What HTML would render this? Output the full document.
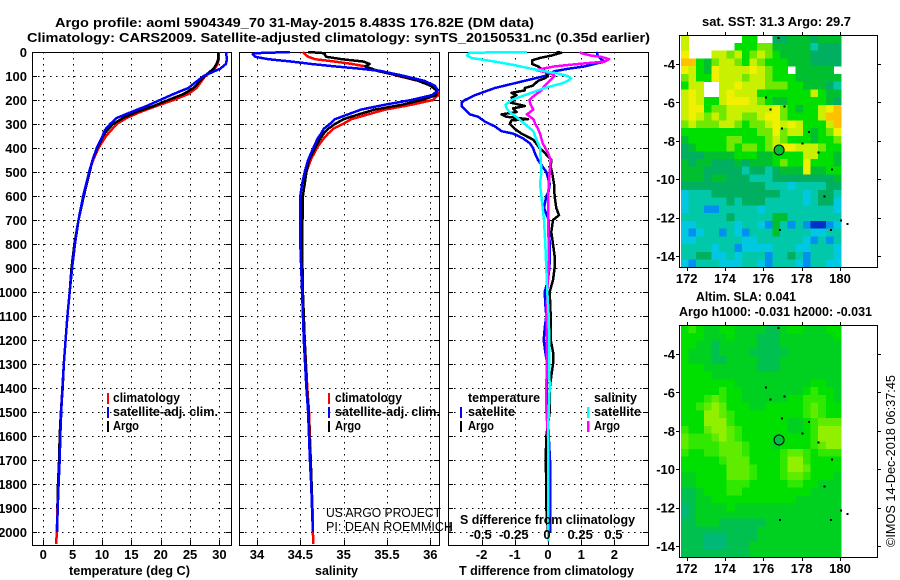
<!DOCTYPE html>
<html lang="en">
<head>
<meta charset="utf-8">
<title>Argo profile comparison</title>
<style>
html,body{margin:0;padding:0;background:#fff;}
svg{display:block;}
text{font-family:"Liberation Sans",sans-serif;fill:#000;}
.b{font-weight:bold;font-size:13px;}
.r{font-size:13px;}
</style>
</head>
<body>
<svg id="chart" xmlns="http://www.w3.org/2000/svg" width="900" height="580" viewBox="0 0 900 580">
<rect x="0" y="0" width="900" height="580" fill="#fff"/>
<text class="b" x="55" y="27" textLength="479" lengthAdjust="spacingAndGlyphs">Argo profile: aoml 5904349_70 31-May-2015 8.483S 176.82E (DM data)</text>
<text class="b" x="27" y="42" textLength="623" lengthAdjust="spacingAndGlyphs">Climatology: CARS2009. Satellite-adjusted climatology: synTS_20150531.nc (0.35d earlier)</text>
<g id="mapLayer"></g>
<g id="panelLayer"></g>
<text class="b" x="69" y="575" textLength="121" lengthAdjust="spacingAndGlyphs">temperature (deg C)</text>
<text class="b" x="315" y="575" textLength="43" lengthAdjust="spacingAndGlyphs">salinity</text>
<text class="b" x="459" y="575" textLength="175" lengthAdjust="spacingAndGlyphs">T difference from climatology</text>
<text class="b" x="460" y="524" textLength="175" lengthAdjust="spacingAndGlyphs">S difference from climatology</text>

<g>
<rect x="107" y="393" width="2" height="11" fill="#f00"/>
<text class="b" x="113" y="402" textLength="67" lengthAdjust="spacingAndGlyphs">climatology</text>
<rect x="107" y="407" width="2" height="11" fill="#00f"/>
<text class="b" x="113" y="416" textLength="105" lengthAdjust="spacingAndGlyphs">satellite-adj. clim.</text>
<rect x="107" y="421" width="2" height="11" fill="#000"/>
<text class="b" x="113" y="430" textLength="26" lengthAdjust="spacingAndGlyphs">Argo</text>
</g>
<g>
<rect x="328" y="393" width="2" height="11" fill="#f00"/>
<text class="b" x="335" y="402" textLength="67" lengthAdjust="spacingAndGlyphs">climatology</text>
<rect x="328" y="407" width="2" height="11" fill="#00f"/>
<text class="b" x="335" y="416" textLength="105" lengthAdjust="spacingAndGlyphs">satellite-adj. clim.</text>
<rect x="328" y="421" width="2" height="11" fill="#000"/>
<text class="b" x="335" y="430" textLength="26" lengthAdjust="spacingAndGlyphs">Argo</text>
</g>
<g>
<text class="b" x="468" y="402" textLength="72" lengthAdjust="spacingAndGlyphs">temperature</text>
<rect x="460" y="407" width="2" height="11" fill="#00f"/>
<text class="b" x="468" y="416" textLength="47" lengthAdjust="spacingAndGlyphs">satellite</text>
<rect x="460" y="421" width="2" height="11" fill="#000"/>
<text class="b" x="468" y="430" textLength="26" lengthAdjust="spacingAndGlyphs">Argo</text>
<text class="b" x="594" y="402" textLength="43" lengthAdjust="spacingAndGlyphs">salinity</text>
<rect x="587" y="407" width="2.5" height="11" fill="#0ff"/>
<text class="b" x="594" y="416" textLength="47" lengthAdjust="spacingAndGlyphs">satellite</text>
<rect x="587" y="421" width="2.5" height="11" fill="#f0f"/>
<text class="b" x="594" y="430" textLength="26" lengthAdjust="spacingAndGlyphs">Argo</text>
</g>
<path d="M445 527H450M450 522V532" stroke="#000" stroke-width="1" fill="none" shape-rendering="crispEdges"/>
<text class="r" x="326" y="517" textLength="115" lengthAdjust="spacingAndGlyphs">US ARGO PROJECT</text>
<text class="r" x="326" y="531" textLength="127" lengthAdjust="spacingAndGlyphs">PI: DEAN ROEMMICH</text>
<text class="b" x="702" y="26" textLength="149" lengthAdjust="spacingAndGlyphs">sat. SST: 31.3 Argo: 29.7</text>
<text class="b" x="696" y="301" textLength="100" lengthAdjust="spacingAndGlyphs">Altim. SLA: 0.041</text>
<text class="b" x="679" y="316" textLength="193" lengthAdjust="spacingAndGlyphs">Argo h1000: -0.031 h2000: -0.031</text>
<text class="r" transform="translate(895,547) rotate(-90)" x="0" y="0" textLength="172" lengthAdjust="spacingAndGlyphs">©IMOS 14-Dec-2018 06:37:45</text>
</svg>
<script>
// ---- profile data ----
const depthTicks = [0,100,200,300,400,500,600,700,800,900,1000,1100,1200,1300,1400,1500,1600,1700,1800,1900,2000];
const tempTicks = [0,5,10,15,20,25,30];
const salTicks = [34,34.5,35,35.5,36];
const salTickLabels = ['34','34.5','35','35.5','36'];
const tdiffTicks = [-2,-1,0,1,2];
const sdiffTicks = [-0.5,-0.25,0,0.25,0.5];
const sdiffTickLabels = ['-0.5','-0.25','0','0.25','0.5'];

const tempDepths = [0,30,50,70,100,150,175,200,225,250,275,300,325,350,400,450,500,600,700,800,900,1000,1100,1200,1300,1400,1500,1600,1700,1800,1900,2000,2050];
const tempClim = [29.9,29.9,29.7,29.2,27.6,26.1,24.7,22.2,19.3,16.5,14.2,12.5,11.6,10.7,9.4,8.5,7.8,6.9,6.0,5.4,4.9,4.5,4.1,3.8,3.5,3.25,3.0,2.85,2.75,2.55,2.4,2.3,2.2];
const tempArgo = [29.8,29.8,29.5,29.0,27.5,25.6,23.9,21.3,18.8,15.9,13.6,11.9,10.9,10.2,9.2,8.4,7.9,6.9,6.0,5.3,4.8,4.5,4.1,3.8,3.5,3.3,3.0,2.8,2.7,2.5,2.4,null,null];
const tempSat = [31.1,31.3,31.1,30.1,27.3,24.7,22.2,19.9,17.6,15.0,12.5,11.4,10.5,10.1,9.1,8.4,7.8,6.8,6.0,5.4,4.9,4.5,4.1,3.8,3.5,3.25,3.05,2.9,2.8,2.6,2.45,2.35,null];

const salDepths = [0,5,10,20,30,40,50,60,70,80,100,120,140,160,180,200,220,240,260,280,300,320,340,360,400,450,500,550,600,800,1000,1200,1400,1500,1600,1700,1800,1900,2000,2050];
const salClim = [34.53,34.54,34.56,34.59,34.67,34.9,35.1,35.25,35.28,35.44,35.63,35.86,36.02,36.08,36.09,36.03,35.78,35.48,35.28,35.09,34.99,34.88,34.82,34.77,34.69,34.62,34.57,34.55,34.53,34.52,34.53,34.55,34.58,34.6,34.61,34.62,34.63,34.64,34.645,34.65];
const salArgo = [34.59,34.78,34.78,34.8,34.98,35.23,35.3,35.25,35.33,35.4,35.65,35.86,36.0,36.07,36.07,35.9,35.67,35.36,35.17,35.0,34.9,34.82,34.77,34.73,34.67,34.6,34.57,34.55,34.53,34.52,34.53,34.55,34.575,34.595,34.605,34.62,34.63,34.635,null,null];
const salSat = [34.38,33.98,33.95,33.98,34.13,34.4,34.63,34.9,35.2,35.44,35.7,35.93,36.05,36.09,36.02,35.78,35.47,35.2,35.05,34.9,34.84,34.77,34.74,34.7,34.65,34.59,34.55,34.52,34.5,34.5,34.52,34.54,34.57,34.59,34.6,34.61,34.625,34.635,34.645,null];

const tSatDepths = [0,5,15,30,40,60,70,80,100,110,120,130,140,150,160,170,180,190,200,210,225,240,260,270,290,310,330,340,360,380,400,420,450,480,500,550,580,600,650,700,750,800,850,900,950,1000,1050,1100,1150,1200,1250,1300,1400,1500,1600,1700,2000];
const tSatDiff = [1.5,1.48,1.5,1.6,1.7,1.1,0.6,0.2,-0.1,-0.4,-0.7,-1.0,-1.3,-1.6,-1.8,-2.0,-2.2,-2.35,-2.5,-2.6,-2.6,-2.5,-2.35,-2.1,-1.9,-1.6,-1.4,-1.05,-0.75,-0.55,-0.45,-0.4,-0.3,-0.15,-0.05,0.05,0.02,-0.05,-0.12,0.02,0.03,0.05,0.06,0.04,0,-0.1,-0.08,-0.05,-0.1,-0.13,-0.08,-0.02,-0.04,0,0.02,0.06,0.06];
const tArgoDepths = [0,3,15,25,35,50,60,70,80,100,110,120,140,150,160,170,180,190,200,210,225,235,250,260,270,280,285,300,320,340,365,400,420,450,480,500,550,600,650,680,700,750,800,850,900,950,1000,1100,1200,1250,1300,1350,1400,1500,1600,1700,1800,1900,2000];
const tArgoDiff = [0.25,0.4,0.1,-0.25,-0.48,-0.48,-0.3,-0.2,-0.1,0,-0.1,-0.3,-0.45,-0.7,-0.7,-1.1,-0.95,-1.1,-1.0,-1.15,-0.7,-1.05,-0.95,-1.4,-1.25,-0.6,-1.1,-1.15,-1.0,-0.8,-0.45,-0.25,-0.1,0.1,0.08,0.12,0.18,0.2,0.25,0.33,0.15,0.1,0.15,0.2,0.2,0.15,0.05,0.08,0.08,0.15,0.15,0.1,0.05,0.05,-0.05,-0.07,-0.05,-0.05,0];
const sSatDepths = [0,3,10,15,25,40,55,70,80,90,100,110,120,130,150,170,185,200,220,235,250,270,300,330,360,400,450,500,550,600,650,700,800,900,1000,1100,1200,1300,1400,1500,1600,2000,2040];
const sSatDiff = [-0.16,-0.59,-0.6,-0.61,-0.575,-0.4,-0.25,-0.125,-0.025,0.075,0.15,0.175,0.15,0.11,-0.025,-0.125,-0.2,-0.275,-0.32,-0.31,-0.29,-0.24,-0.175,-0.11,-0.09,-0.06,-0.055,-0.05,-0.06,-0.05,-0.04,-0.03,-0.02,-0.0125,-0.005,0.005,0.01,0.008,0.0125,0.005,0,0,0];
const sArgoDepths = [0,5,15,20,30,40,50,60,75,90,100,120,140,160,180,200,220,240,260,280,300,320,340,380,420,450,500,600,700,800,900,1000,1100,1200,1300,1400,1500,1600,2000];
const sArgoDiff = [0.24,0.25,0.325,0.4,0.46,0.425,0.225,0.05,-0.09,0.025,0.05,0.0125,-0.025,-0.05,-0.1,-0.14,-0.13,-0.11,-0.16,-0.11,-0.095,-0.075,-0.06,-0.04,0,0.02,0.0125,0,0,0.005,0.005,-0.005,-0.012,-0.008,-0.01,-0.012,-0.012,0,0];

// ---- map data ----
const lonTicks = [172,174,176,178,180];
const latTicks = [-4,-6,-8,-10,-12,-14];
const argoLon = [176.82];
const argoLat = [-8.48];
const islandLon = [176.09,176.31,177.05,176.92,178.33,178.0,178.82,179.53,179.15,180.0,180.35,176.83,179.48,176.75];
const islandLat = [-5.70,-6.33,-6.16,-7.32,-7.5,-8.1,-8.57,-9.43,-10.85,-12.1,-12.27,-12.6,-12.6,-2.6];
const n = null;
const sstLevels = [
[8,n,n,n,n,n,n,n,6,6,n,n,4,4,5,5,5,4,5,5,5],
[8,n,n,n,n,n,n,6,6,6,7,7,5,5,5,5,5,3,4,4,4],
[9,n,n,n,8,8,7,8,6,7,8,7,6,5,5,5,5,4,4,4,4],
[10,10,6,5,7,8,8,7,6,8,7,6,6,6,5,5,5,4,4,4,4],
[9,8,6,5,9,8,8,8,8,9,8,7,6,6,n,5,5,5,5,5,n],
[7,8,6,6,9,8,8,8,7,8,8,7,6,6,6,5,5,5,5,5,5],
[6,8,8,n,n,8,8,9,8,8,8,7,7,7,6,6,5,5,5,4,3],
[8,9,8,n,n,8,9,8,8,8,6,6,6,6,6,6,6,8,6,5,5],
[8,9,8,6,6,8,9,9,9,8,7,6,5,5,6,6,6,6,6,5,4],
[8,9,9,6,7,7,8,8,8,8,8,8,9,7,6,5,6,6,8,9,10],
[8,9,8,7,8,7,8,8,7,7,8,9,9,7,6,6,6,6,8,10,10],
[7,8,7,7,7,8,8,7,6,7,7,8,9,8,9,8,6,6,6,8,10],
[6,6,6,6,6,6,6,6,6,6,7,7,9,7,8,8,6,5,6,7,9],
[5,6,6,6,6,6,7,7,6,6,6,7,8,7,6,6,6,5,6,6,7],
[4,5,6,6,6,6,7,6,7,7,6,7,8,9,9,8,8,8,7,6,6],
[4,4,4,5,5,5,5,6,6,6,5,5,6,6,6,6,8,8,6,6,5],
[5,4,5,5,4,4,4,5,4,5,5,5,6,7,6,6,9,6,6,6,5],
[5,5,5,4,4,4,4,4,3,4,4,3,4,5,5,5,9,5,5,6,6],
[5,5,5,4,5,5,4,4,4,3,3,3,4,4,4,4,4,4,4,4,5],
[4,4,4,4,4,4,4,4,4,4,4,3,3,3,2,3,3,3,3,4,4],
[2,3,3,3,4,4,4,4,4,4,4,4,4,3,3,3,2,3,4,4,3],
[2,3,3,3,3,3,4,3,4,4,4,3,3,3,3,3,2,3,4,4,2],
[2,3,3,1,1,3,3,3,3,3,2,3,3,3,3,3,3,3,3,3,2],
[3,3,3,3,3,3,4,3,3,3,3,3,5,5,3,3,3,3,3,3,3],
[2,2,3,3,3,3,3,2,3,3,2,1,5,3,1,3,1,0,0,1,2],
[2,1,2,3,3,1,3,2,1,3,3,3,5,3,3,3,3,2,2,3,3],
[2,2,3,3,3,3,3,3,2,2,3,3,3,3,3,3,2,1,3,1,3],
[3,3,3,3,2,3,3,1,2,2,2,2,3,3,3,2,2,3,3,3,2],
[3,3,4,4,2,2,3,2,3,3,3,1,3,3,4,3,1,3,3,3,2],
[2,1,3,3,3,2,2,2,3,3,2,1,3,3,3,2,1,3,3,2,2]
];
const slaLevels = [
[3,4,3,2,2,3,3,2,2,2,2,1,1,2,3,3,2,2,2,3,3],
[3,3,3,2,2,2,3,2,2,2,1,1,1,2,2,2,2,2,2,2,3],
[3,3,2,2,1,2,2,2,2,2,1,1,1,2,2,2,2,2,2,2,2],
[3,2,2,2,1,2,2,2,2,1,1,1,1,1,2,2,2,2,2,2,2],
[3,2,2,2,1,1,2,2,2,2,1,1,1,2,2,2,2,2,2,2,2],
[3,3,3,2,2,2,2,2,2,2,1,1,1,2,2,2,2,2,2,2,2],
[3,3,3,3,2,2,2,2,2,2,2,2,2,2,2,2,2,2,2,2,2],
[3,3,3,3,3,3,3,2,2,2,2,2,2,2,2,2,2,3,3,2,2],
[3,3,3,3,3,4,3,3,2,2,2,2,2,2,2,2,3,4,3,3,2],
[3,3,3,4,5,4,3,3,2,2,2,2,2,2,3,3,4,4,4,3,2],
[3,3,4,5,6,5,3,3,3,2,2,3,3,3,3,3,4,5,4,3,3],
[3,3,3,6,6,5,4,3,3,3,3,3,3,3,3,3,4,5,4,3,3],
[3,3,3,6,6,6,4,3,3,3,3,3,3,3,2,2,3,4,5,5,5],
[4,3,3,5,6,6,5,4,3,3,3,3,3,3,2,2,3,4,6,6,6],
[5,4,4,4,5,6,5,4,3,3,3,3,2,3,3,3,3,4,6,6,6],
[5,4,4,4,4,5,5,5,4,3,3,3,2,3,3,3,3,4,5,6,6],
[4,3,3,4,4,5,5,5,4,3,3,3,3,4,5,5,4,3,4,4,4],
[3,3,3,3,3,4,5,5,5,3,3,3,3,4,6,6,4,3,3,3,3],
[3,3,3,3,3,3,5,5,5,4,3,3,3,4,6,6,5,3,3,3,3],
[2,2,3,3,3,3,5,5,5,4,3,3,3,4,5,5,4,3,3,3,2],
[2,2,3,3,3,3,4,4,4,3,3,3,3,3,4,4,3,3,2,2,2],
[1,1,2,3,3,3,4,4,3,3,3,3,3,3,3,3,3,2,2,2,2],
[1,1,2,2,3,3,3,3,3,3,3,3,3,3,3,2,2,2,2,2,2],
[0,1,2,2,2,2,3,2,2,2,2,2,2,2,2,2,2,2,2,2,2],
[0,1,2,2,2,2,2,2,2,2,2,2,2,2,2,2,2,2,2,2,2],
[1,1,2,2,2,1,1,1,1,1,1,2,2,2,2,2,2,2,2,2,2],
[1,1,1,1,1,1,1,1,1,1,2,2,2,2,2,2,2,2,2,2,2],
[1,1,1,0,0,0,1,1,1,1,2,2,2,2,2,2,2,2,2,2,2],
[1,1,1,0,0,0,1,1,1,2,2,2,2,2,2,2,2,2,2,2,2],
[1,1,1,1,1,1,1,1,1,2,2,2,2,2,2,2,2,2,2,2,2]
];

// ---- rendering ----
const SVGNS = 'http://www.w3.org/2000/svg';
const sstPalette = ['#0030c8','#0090f0','#00c8e0','#00c8a8','#00b060','#00c030','#00e000','#70e800','#c8f000','#f0f000','#ffc000'];
const slaPalette = ['#00b878','#00c050','#00d020','#00e000','#30e800','#60ec00','#90f000'];
const panelLayer = document.getElementById('panelLayer');
const mapLayer = document.getElementById('mapLayer');

function mk(tag, parent, attrs) {
  const el = document.createElementNS(SVGNS, tag);
  for (const k in attrs) el.setAttribute(k, attrs[k]);
  parent.appendChild(el);
  return el;
}
const depthY = d => 52 + d * 0.24;
const PANEL_TOP = 52, PANEL_BOTTOM = 545;
const tempX = v => 43.3 + v * 5.87;
const salX = v => 257 + (v - 34) * 86.65;
const tdiffX = v => 548 + v * 33.2;
const sdiffX = v => tdiffX(v * 4);

function drawPanel(name, left, right, xs, scale) {
  const g = mk('g', panelLayer, {});
  
  
  const dots = depthTicks.slice(1).map(d => 'M' + left + ' ' + (Math.round(depthY(d)) + 0.5) + 'H' + right).join('')
    + xs.map(v => 'M' + (Math.round(scale(v)) + 0.5) + ' ' + PANEL_TOP + 'V' + PANEL_BOTTOM).join('');
  const grid = mk('path', g, {d: dots, stroke: '#000', 'stroke-width': 1, 'stroke-dasharray': '1.5 4.5', fill: 'none'});
  
  
  const ticks = depthTicks.slice(1).map(d => {
    const y = Math.round(depthY(d)) + 0.5;
    return 'M' + left + ' ' + y + 'h5M' + right + ' ' + y + 'h-5';
  }).join('') + xs.map(v => {
    const x = Math.round(scale(v)) + 0.5;
    return 'M' + x + ' ' + PANEL_BOTTOM + 'v-5';
  }).join('');
  const tk = mk('path', g, {d: ticks, stroke: '#000', 'stroke-width': 1, fill: 'none', 'shape-rendering': 'crispEdges'});
  
  
  const frame = mk('rect', g, {x: left + 0.5, y: PANEL_TOP + 0.5, width: right - left, height: PANEL_BOTTOM - PANEL_TOP, fill: 'none', stroke: '#000', 'stroke-width': 1, 'shape-rendering': 'crispEdges'});
  
  
}
function drawLine(name, depths, values, scale, color, width) {
  const pts = [];
  depths.forEach((d, i) => {
    if (values[i] !== null) pts.push(scale(values[i]).toFixed(1) + ',' + depthY(d).toFixed(1));
  });
  const line = mk('polyline', panelLayer, {points: pts.join(' '), fill: 'none', stroke: color, 'stroke-width': width, 'stroke-linejoin': 'round', 'shape-rendering': 'crispEdges'});
  
  
}
function label(parent, name, str, x, y, anchor) {
  const t = mk('text', parent, {x: x, y: y, 'text-anchor': anchor, class: 'b'});
  t.textContent = str;
  
  
}

drawPanel('temperature', 32, 231, tempTicks, tempX);
drawPanel('salinity', 239, 439, salTicks, salX);
drawPanel('difference', 448, 648, tdiffTicks, tdiffX);

drawLine('line-temperature-climatology', tempDepths, tempClim, tempX, '#f00', 2.5);
drawLine('line-temperature-argo', tempDepths, tempArgo, tempX, '#000', 2.5);
drawLine('line-temperature-satellite', tempDepths, tempSat, tempX, '#00f', 2.5);
drawLine('line-salinity-climatology', salDepths, salClim, salX, '#f00', 2.5);
drawLine('line-salinity-argo', salDepths, salArgo, salX, '#000', 2.5);
drawLine('line-salinity-satellite', salDepths, salSat, salX, '#00f', 2.5);
drawLine('line-t-diff-satellite', tSatDepths, tSatDiff, tdiffX, '#00f', 2.5);
drawLine('line-t-diff-argo', tArgoDepths, tArgoDiff, tdiffX, '#000', 2.5);
drawLine('line-s-diff-argo', sArgoDepths, sArgoDiff, sdiffX, '#f0f', 2.5);
drawLine('line-s-diff-satellite', sSatDepths, sSatDiff, sdiffX, '#0ff', 2.5);

depthTicks.forEach(d => label(panelLayer, 'y-tick-label', String(d), 27, depthY(d) + 5, 'end'));
tempTicks.forEach(v => label(panelLayer, 'x-tick-label-temperature', String(v), tempX(v), 559, 'middle'));
salTicks.forEach((v, i) => label(panelLayer, 'x-tick-label-salinity', salTickLabels[i], salX(v), 559, 'middle'));
tdiffTicks.forEach(v => label(panelLayer, 'x-tick-label-t-difference', String(v), tdiffX(v), 559, 'middle'));
sdiffTicks.forEach((v, i) => label(panelLayer, 'x-tick-label-s-difference', sdiffTickLabels[i], sdiffX(v) - 1, 539, 'middle'));

// maps
const lonX = lon => 686.7 + (lon - 172) * 19.16;
const latY = lat => 64 - (lat + 4) * 19.2;
function drawMap(name, levels, palette, offset, circleColor) {
  const g = mk('g', mapLayer, {});
  
  
  const cellsG = mk('g', g, {'shape-rendering': 'crispEdges'});
  
  
  const lonStep = 0.398, latStep = 0.403, lon0 = 171.7, lat0 = -2.5;
  levels.forEach((row, j) => {
    row.forEach((v, i) => {
      if (v === null) return;
      const x0 = lonX(lon0 + i * lonStep), x1 = lonX(lon0 + (i + 1) * lonStep);
      const y0 = latY(lat0 - j * latStep) + offset, y1 = latY(lat0 - (j + 1) * latStep) + offset;
      const c = mk('rect', cellsG, {x: x0.toFixed(2), y: y0.toFixed(2), width: (x1 - x0 + 0.3).toFixed(2), height: (y1 - y0 + 0.3).toFixed(2), fill: palette[v]});
      
      
    });
  });
  const left = 679, right = 877, top = 35 + offset, bottom = 267 + offset;
  const frame = mk('rect', g, {x: left + 0.5, y: top + 0.5, width: right - left, height: bottom - top, fill: 'none', stroke: '#000', 'shape-rendering': 'crispEdges'});
  
  
  let d = '';
  lonTicks.forEach(v => {
    const x = Math.round(lonX(v)) + 0.5;
    d += 'M' + x + ' ' + top + 'v-3M' + x + ' ' + (bottom + 1) + 'v3';
  });
  latTicks.forEach(v => {
    const y = Math.round(latY(v) + offset) + 0.5;
    d += 'M' + left + ' ' + y + 'h-3M' + (right + 1) + ' ' + y + 'h3';
  });
  const tk = mk('path', g, {d: d, stroke: '#000', fill: 'none', 'shape-rendering': 'crispEdges'});
  
  
  lonTicks.forEach(v => label(g, 'longitude-tick-label', String(v), lonX(v), 283 + offset, 'middle'));
  latTicks.forEach(v => label(g, 'latitude-tick-label', String(v), 675, latY(v) + offset + 5, 'end'));
  islandLon.forEach((lon, i) => {
    const isl = mk('rect', g, {x: lonX(lon).toFixed(1), y: (latY(islandLat[i]) + offset).toFixed(1), width: 2, height: 2, fill: '#000', 'shape-rendering': 'crispEdges'});
    
    
  });
  argoLon.forEach((lon, i) => {
    const c = mk('circle', g, {cx: lonX(lon).toFixed(1), cy: (latY(argoLat[i]) + offset).toFixed(1), r: 5, fill: circleColor, stroke: '#000', 'stroke-width': 1});
    
    
  });
}
drawMap('sst-map', sstLevels, sstPalette, 0, '#00c030');
drawMap('sla-map', slaLevels, slaPalette, 290, '#00c040');
</script>
</body>
</html>
